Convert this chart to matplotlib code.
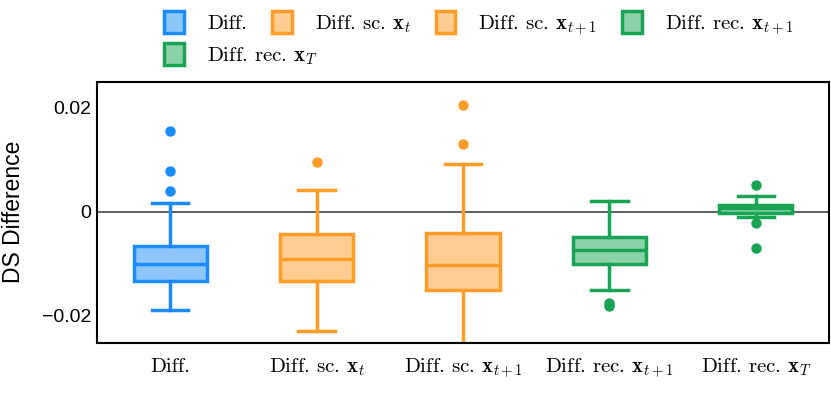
import matplotlib
matplotlib.use("Agg")
import matplotlib.pyplot as plt
from matplotlib.patches import Patch
from matplotlib.ticker import FixedLocator, FixedFormatter

plt.rcParams['mathtext.fontset'] = 'cm'
plt.rcParams['axes.formatter.use_mathtext'] = True

labels = ['Diff.', r'Diff. sc. $\mathbf{x}_t$', r'Diff. sc. $\mathbf{x}_{t+1}$',
          r'Diff. rec. $\mathbf{x}_{t+1}$', r'Diff. rec. $\mathbf{x}_T$']
med = [-0.0100, -0.0091, -0.0102, -0.0074, 0.0008]
q1 = [-0.0133, -0.0133, -0.0151, -0.0101, -0.00025]
q3 = [-0.0065, -0.0043, -0.0040, -0.0049, 0.00135]
whislo = [-0.0189, -0.0228, -0.0300, -0.0150, -0.0010]
whishi = [0.0018, 0.0042, 0.0093, 0.0021, 0.0031]
fliers = [[0.0155, 0.0079, 0.0040], [0.0097], [0.0206, 0.0131], [-0.0176, -0.0180], [0.0052, -0.0022, -0.0069]]
edge_colors = ['#1a8cff', '#ff9b28', '#ff9b28', '#1aa355', '#1aa355']
face_colors = ['#8cc6fb', '#ffcc91', '#ffcc91', '#8bd2a9', '#8bd2a9']
yticks = [-0.02, 0, 0.02]
ytick_labels = ['\u22120.02', '0', '0.02']

fs = 15
fig = plt.figure(figsize=(8.31, 4.16), dpi=100)
ax = fig.add_axes([0.1167, 0.1755, 0.881, 0.6275])

ax.axhline(0, color='#444444', lw=1.2, zorder=0)

for i in range(len(labels)):
    st = [dict(med=med[i], q1=q1[i], q3=q3[i], whislo=whislo[i], whishi=whishi[i], fliers=fliers[i])]
    c = edge_colors[i]
    ax.bxp(st, positions=[i], widths=0.5, capwidths=0.25, patch_artist=True,
           boxprops=dict(facecolor=face_colors[i], edgecolor=c, lw=2.5),
           medianprops=dict(color=c, lw=2.5),
           whiskerprops=dict(color=c, lw=2.5),
           capprops=dict(color=c, lw=2.5),
           flierprops=dict(marker='o', markerfacecolor=c, markeredgecolor=c, markersize=6.5))

ax.set_xlim(-0.5, 4.5)
ax.set_ylim(-0.0252, 0.025)
ax.set_xticks(range(len(labels)))
ax.set_xticklabels(labels, fontsize=fs, family='cmr10', va='baseline')
ax.yaxis.set_major_locator(FixedLocator(yticks))
ax.yaxis.set_major_formatter(FixedFormatter(ytick_labels))
ax.tick_params(axis='both', length=0)
ax.tick_params(axis='y', labelsize=14, pad=4)
ax.tick_params(axis='x', pad=21)
for lab in ax.get_yticklabels():
    lab.set_family('Liberation Sans')
fig.text(14 / 831, 0.4916, 'DS Difference', fontsize=16.5, family='Liberation Sans',
         rotation=90, ha='center', va='center')
for s in ax.spines.values():
    s.set_linewidth(1.5)

handles = [Patch(facecolor=face_colors[i], edgecolor=edge_colors[i], lw=2.5) for i in range(len(labels))]
common = dict(frameon=False, borderpad=0, prop=dict(family='cmr10', size=fs),
              handlelength=0.95, handleheight=1.25, handletextpad=1.1, columnspacing=1.2)
leg1 = fig.legend(handles[:4], labels[:4], loc='center left', ncol=4,
                  bbox_to_anchor=(154 / 831, 1 - 24 / 416), **common)
leg2 = fig.legend(handles[4:], labels[4:], loc='center left', ncol=1,
                  bbox_to_anchor=(154 / 831, 1 - 55 / 416), **common)

fig.savefig('out.png', dpi=100)
